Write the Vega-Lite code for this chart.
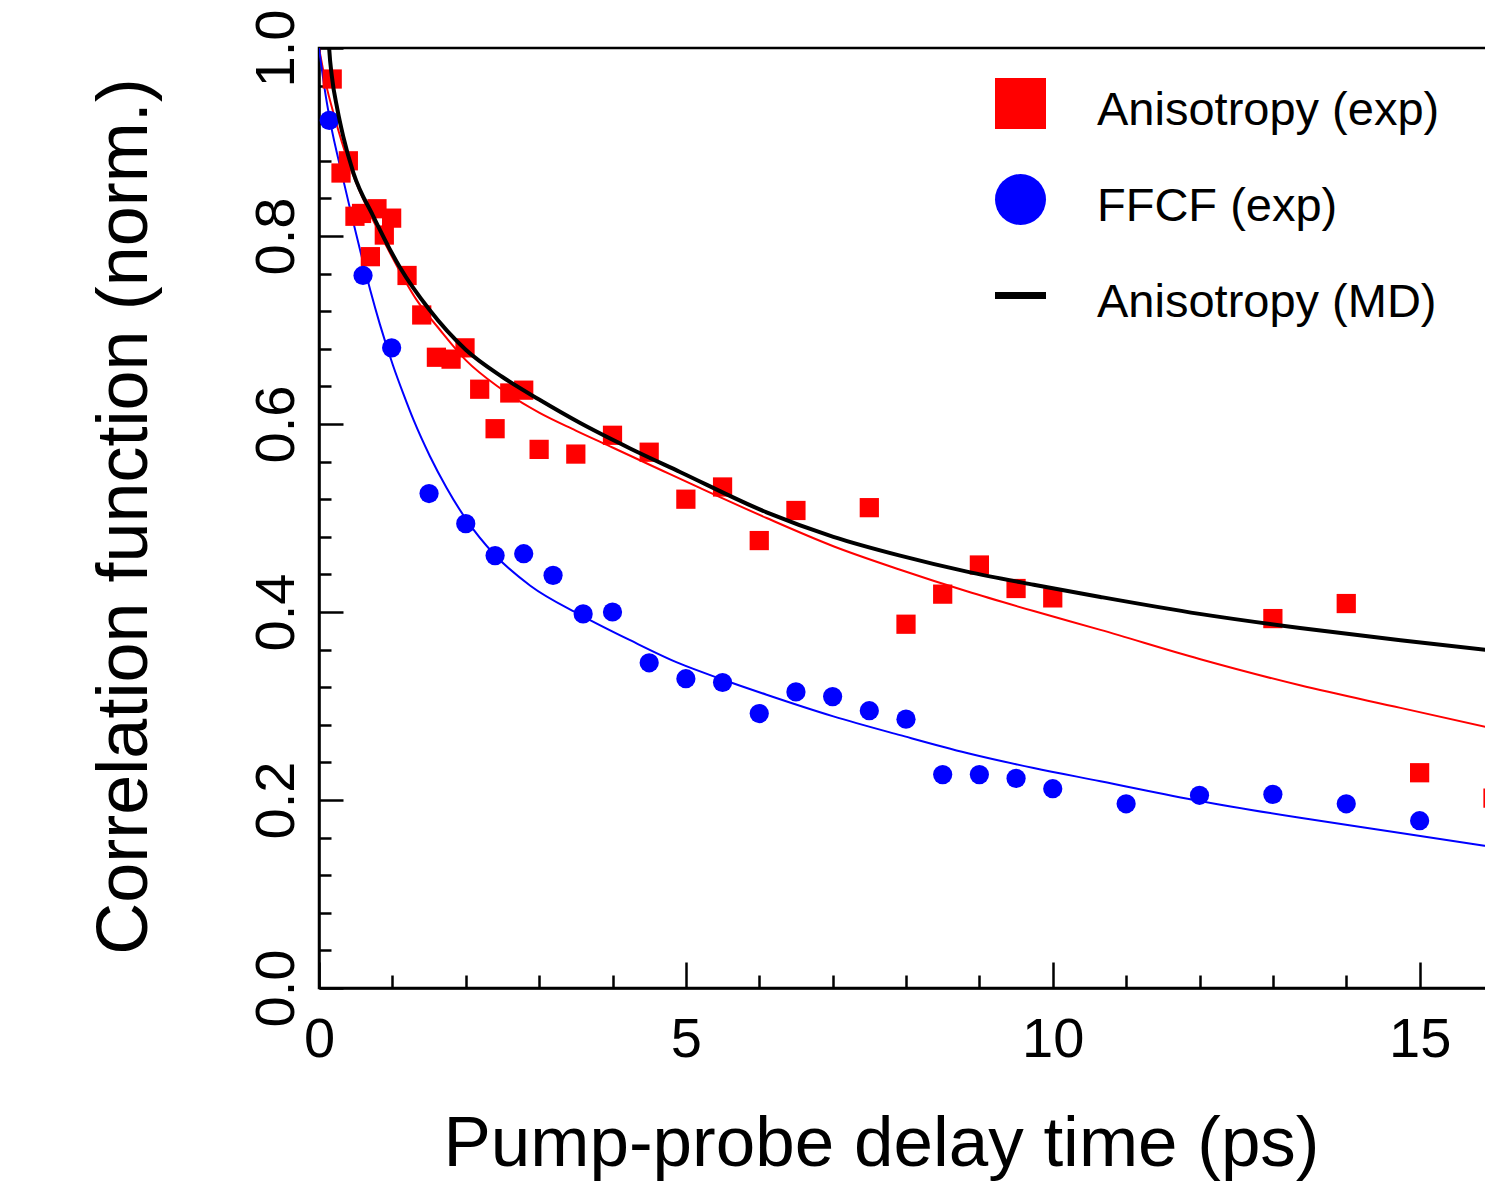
{
  "$schema": "https://vega.github.io/schema/vega-lite/v6.json",
  "autosize": "none",
  "width": 1174,
  "height": 940,
  "padding": {"left": 319, "top": 48, "right": 0, "bottom": 193},
  "background": "white",
  "config": {
    "view": {"stroke": "#000000", "strokeWidth": 2.5},
    "font": "Liberation Sans",
    "axis": {
      "grid": false,
      "domainColor": "#000000",
      "domainWidth": 2.5,
      "tickColor": "#000000",
      "tickWidth": 2.5,
      "labelFont": "Liberation Sans",
      "labelFontSize": 56,
      "labelColor": "#000000",
      "titleFont": "Liberation Sans",
      "titleColor": "#000000",
      "titleFontWeight": "normal"
    },
    "legend": {
      "labelFont": "Liberation Sans",
      "labelColor": "#000000"
    }
  },
  "datasets": {
    "exp": [
      {"t": 0.18, "v": 0.967, "series": "Anisotropy (exp)"},
      {"t": 0.30, "v": 0.867, "series": "Anisotropy (exp)"},
      {"t": 0.40, "v": 0.880, "series": "Anisotropy (exp)"},
      {"t": 0.49, "v": 0.821, "series": "Anisotropy (exp)"},
      {"t": 0.58, "v": 0.824, "series": "Anisotropy (exp)"},
      {"t": 0.70, "v": 0.778, "series": "Anisotropy (exp)"},
      {"t": 0.79, "v": 0.829, "series": "Anisotropy (exp)"},
      {"t": 0.89, "v": 0.801, "series": "Anisotropy (exp)"},
      {"t": 0.99, "v": 0.819, "series": "Anisotropy (exp)"},
      {"t": 1.20, "v": 0.758, "series": "Anisotropy (exp)"},
      {"t": 1.40, "v": 0.716, "series": "Anisotropy (exp)"},
      {"t": 1.60, "v": 0.671, "series": "Anisotropy (exp)"},
      {"t": 1.80, "v": 0.669, "series": "Anisotropy (exp)"},
      {"t": 1.99, "v": 0.681, "series": "Anisotropy (exp)"},
      {"t": 2.19, "v": 0.637, "series": "Anisotropy (exp)"},
      {"t": 2.40, "v": 0.595, "series": "Anisotropy (exp)"},
      {"t": 2.60, "v": 0.633, "series": "Anisotropy (exp)"},
      {"t": 2.79, "v": 0.636, "series": "Anisotropy (exp)"},
      {"t": 3.00, "v": 0.573, "series": "Anisotropy (exp)"},
      {"t": 3.50, "v": 0.568, "series": "Anisotropy (exp)"},
      {"t": 4.00, "v": 0.588, "series": "Anisotropy (exp)"},
      {"t": 4.50, "v": 0.570, "series": "Anisotropy (exp)"},
      {"t": 5.00, "v": 0.520, "series": "Anisotropy (exp)"},
      {"t": 5.50, "v": 0.533, "series": "Anisotropy (exp)"},
      {"t": 6.00, "v": 0.476, "series": "Anisotropy (exp)"},
      {"t": 6.50, "v": 0.508, "series": "Anisotropy (exp)"},
      {"t": 7.50, "v": 0.511, "series": "Anisotropy (exp)"},
      {"t": 8.00, "v": 0.387, "series": "Anisotropy (exp)"},
      {"t": 8.50, "v": 0.419, "series": "Anisotropy (exp)"},
      {"t": 9.00, "v": 0.450, "series": "Anisotropy (exp)"},
      {"t": 9.50, "v": 0.425, "series": "Anisotropy (exp)"},
      {"t": 10.0, "v": 0.415, "series": "Anisotropy (exp)"},
      {"t": 13.0, "v": 0.393, "series": "Anisotropy (exp)"},
      {"t": 14.0, "v": 0.409, "series": "Anisotropy (exp)"},
      {"t": 15.0, "v": 0.229, "series": "Anisotropy (exp)"},
      {"t": 16.0, "v": 0.202, "series": "Anisotropy (exp)"},
      {"t": 0.14, "v": 0.923, "series": "FFCF (exp)"},
      {"t": 0.60, "v": 0.758, "series": "FFCF (exp)"},
      {"t": 0.99, "v": 0.681, "series": "FFCF (exp)"},
      {"t": 1.50, "v": 0.526, "series": "FFCF (exp)"},
      {"t": 2.00, "v": 0.494, "series": "FFCF (exp)"},
      {"t": 2.40, "v": 0.460, "series": "FFCF (exp)"},
      {"t": 2.79, "v": 0.462, "series": "FFCF (exp)"},
      {"t": 3.19, "v": 0.439, "series": "FFCF (exp)"},
      {"t": 3.60, "v": 0.398, "series": "FFCF (exp)"},
      {"t": 4.00, "v": 0.400, "series": "FFCF (exp)"},
      {"t": 4.50, "v": 0.346, "series": "FFCF (exp)"},
      {"t": 5.00, "v": 0.329, "series": "FFCF (exp)"},
      {"t": 5.50, "v": 0.325, "series": "FFCF (exp)"},
      {"t": 6.00, "v": 0.292, "series": "FFCF (exp)"},
      {"t": 6.50, "v": 0.315, "series": "FFCF (exp)"},
      {"t": 7.00, "v": 0.310, "series": "FFCF (exp)"},
      {"t": 7.50, "v": 0.295, "series": "FFCF (exp)"},
      {"t": 8.00, "v": 0.286, "series": "FFCF (exp)"},
      {"t": 8.50, "v": 0.227, "series": "FFCF (exp)"},
      {"t": 9.00, "v": 0.227, "series": "FFCF (exp)"},
      {"t": 9.50, "v": 0.223, "series": "FFCF (exp)"},
      {"t": 10.0, "v": 0.212, "series": "FFCF (exp)"},
      {"t": 11.0, "v": 0.196, "series": "FFCF (exp)"},
      {"t": 12.0, "v": 0.205, "series": "FFCF (exp)"},
      {"t": 13.0, "v": 0.206, "series": "FFCF (exp)"},
      {"t": 14.0, "v": 0.196, "series": "FFCF (exp)"},
      {"t": 15.0, "v": 0.178, "series": "FFCF (exp)"}
    ],
    "fitAnis": [
      {"t": 0, "v": 1.0}, {"t": 0.1, "v": 0.960}, {"t": 0.2, "v": 0.930},
      {"t": 0.42, "v": 0.874}, {"t": 0.65, "v": 0.831}, {"t": 0.92, "v": 0.789},
      {"t": 1.33, "v": 0.732}, {"t": 1.65, "v": 0.700}, {"t": 2.0, "v": 0.668},
      {"t": 2.47, "v": 0.638}, {"t": 3.0, "v": 0.612}, {"t": 3.5, "v": 0.593},
      {"t": 4.0, "v": 0.575}, {"t": 4.69, "v": 0.550}, {"t": 5.19, "v": 0.532},
      {"t": 6.1, "v": 0.500}, {"t": 7.01, "v": 0.470}, {"t": 7.92, "v": 0.445},
      {"t": 8.83, "v": 0.422}, {"t": 9.74, "v": 0.401}, {"t": 10.65, "v": 0.381},
      {"t": 12.0, "v": 0.350}, {"t": 13.37, "v": 0.322}, {"t": 14.74, "v": 0.298},
      {"t": 16.0, "v": 0.276}
    ],
    "fitFFCF": [
      {"t": 0, "v": 1.0}, {"t": 0.08, "v": 0.955}, {"t": 0.15, "v": 0.923},
      {"t": 0.33, "v": 0.860}, {"t": 0.56, "v": 0.785}, {"t": 0.70, "v": 0.742},
      {"t": 0.83, "v": 0.706}, {"t": 1.01, "v": 0.662}, {"t": 1.15, "v": 0.632},
      {"t": 1.29, "v": 0.604}, {"t": 1.51, "v": 0.566}, {"t": 1.74, "v": 0.532},
      {"t": 2.01, "v": 0.498}, {"t": 2.38, "v": 0.462}, {"t": 2.88, "v": 0.428},
      {"t": 3.56, "v": 0.397}, {"t": 4.24, "v": 0.370}, {"t": 4.92, "v": 0.345},
      {"t": 5.47, "v": 0.329}, {"t": 6.1, "v": 0.312}, {"t": 7.01, "v": 0.289},
      {"t": 7.92, "v": 0.269}, {"t": 8.83, "v": 0.250}, {"t": 9.74, "v": 0.234},
      {"t": 10.65, "v": 0.220}, {"t": 12.0, "v": 0.199}, {"t": 13.37, "v": 0.181},
      {"t": 14.74, "v": 0.165}, {"t": 16.0, "v": 0.150}
    ],
    "md": [
      {"t": 0.12, "v": 1.03}, {"t": 0.14, "v": 0.998}, {"t": 0.175, "v": 0.970},
      {"t": 0.25, "v": 0.935}, {"t": 0.33, "v": 0.906}, {"t": 0.47, "v": 0.867},
      {"t": 0.74, "v": 0.821}, {"t": 1.10, "v": 0.767}, {"t": 1.50, "v": 0.722},
      {"t": 2.0, "v": 0.679}, {"t": 2.5, "v": 0.650}, {"t": 3.0, "v": 0.626},
      {"t": 3.56, "v": 0.601}, {"t": 4.24, "v": 0.574}, {"t": 4.92, "v": 0.549},
      {"t": 6.1, "v": 0.506}, {"t": 7.01, "v": 0.480}, {"t": 7.92, "v": 0.460},
      {"t": 8.83, "v": 0.443}, {"t": 9.74, "v": 0.429}, {"t": 10.65, "v": 0.416},
      {"t": 12.0, "v": 0.398}, {"t": 13.37, "v": 0.383}, {"t": 14.74, "v": 0.370},
      {"t": 16.0, "v": 0.359}
    ]
  },
  "encoding": {
    "x": {
      "field": "t",
      "type": "quantitative",
      "scale": {"domain": [0, 16], "nice": false, "zero": false},
      "axis": {
        "title": "Pump-probe delay time (ps)",
        "titleFontSize": 71,
        "titleBaseline": "alphabetic",
        "titleX": 562,
        "titleY": 177,
        "titleAnchor": "middle",
        "titleAlign": "center",
        "values": [0,1,2,3,4,5,6,7,8,9,10,11,12,13,14,15,16],
        "labelExpr": "datum.value % 5 == 0 ? format(datum.value, 'd') : ''",
        "tickSize": {"condition": {"test": "datum.value % 5 == 0", "value": -26}, "value": -13},
        "labelPadding": 50,
        "labelFlush": false,
        "labelOverlap": false,
        "labelBaseline": "top"
      }
    },
    "y": {
      "field": "v",
      "type": "quantitative",
      "scale": {"domain": [0, 1], "nice": false, "zero": false},
      "axis": {
        "title": "Correlation function (norm.)",
        "titleFontSize": 72,
        "titleAngle": 270,
        "titleBaseline": "alphabetic",
        "titleX": -173,
        "titleY": 468,
        "titleAlign": "center",
        "values": [0,0.04,0.08,0.12,0.16,0.2,0.24,0.28,0.32,0.36,0.4,0.44,0.48,0.52,0.56,0.6,0.64,0.68,0.72,0.76,0.8,0.84,0.88,0.92,0.96,1],
        "labelExpr": "abs(datum.value*5 - round(datum.value*5)) < 0.001 ? format(datum.value, '.1f') : ''",
        "tickSize": {"condition": {"test": "abs(datum.value*5 - round(datum.value*5)) < 0.001", "value": -24}, "value": -12},
        "labelPadding": 50,
        "labelAngle": 270,
        "labelAlign": "center",
        "labelBaseline": "alphabetic",
        "labelFlush": false,
        "labelOverlap": false
      }
    }
  },
  "layer": [
    {
      "data": {"name": "fitAnis"},
      "mark": {"type": "line", "color": "#ff0000", "strokeWidth": 2, "clip": true, "interpolate": "monotone"},
      "encoding": {"order": {"field": "t", "type": "quantitative"}}
    },
    {
      "data": {"name": "fitFFCF"},
      "mark": {"type": "line", "color": "#0000ff", "strokeWidth": 2, "clip": true, "interpolate": "monotone"},
      "encoding": {"order": {"field": "t", "type": "quantitative"}}
    },
    {
      "data": {"name": "exp"},
      "mark": {"type": "point", "filled": true, "opacity": 1, "strokeWidth": 0, "size": 370},
      "encoding": {
        "color": {
          "field": "series",
          "type": "nominal",
          "scale": {"domain": ["Anisotropy (exp)", "FFCF (exp)", "Anisotropy (MD)"], "range": ["#ff0000", "#0000ff", "#000000"]},
          "legend": {
            "title": null,
            "orient": "none",
            "legendX": 676,
            "legendY": 30,
            "padding": 0,
            "symbolSize": 2601,
            "symbolStrokeWidth": 0,
            "labelFontSize": 47,
            "labelOffset": 51,
            "rowPadding": 40,
            "labelLimit": 600,
            "symbolOpacity": 1,
            "encode": {
              "symbols": {"update": {"size": {"value": 2601}}},
              "labels": {"update": {"dy": {"value": 7}}}
            }
          }
        },
        "shape": {
          "field": "series",
          "type": "nominal",
          "scale": {"domain": ["Anisotropy (exp)", "FFCF (exp)", "Anisotropy (MD)"], "range": ["square", "circle", "M-1,-0.14H1V0.14H-1Z"]},
          "legend": {
            "title": null,
            "orient": "none",
            "legendX": 676,
            "legendY": 30,
            "padding": 0,
            "symbolSize": 2601,
            "symbolStrokeWidth": 0,
            "labelFontSize": 47,
            "labelOffset": 51,
            "rowPadding": 40,
            "labelLimit": 600,
            "symbolOpacity": 1,
            "encode": {
              "symbols": {"update": {"size": {"value": 2601}}},
              "labels": {"update": {"dy": {"value": 7}}}
            }
          }
        }
      }
    },
    {
      "data": {"name": "md"},
      "mark": {"type": "line", "color": "#000000", "strokeWidth": 4, "clip": true, "interpolate": "monotone"},
      "encoding": {"order": {"field": "t", "type": "quantitative"}}
    }
  ]
}
